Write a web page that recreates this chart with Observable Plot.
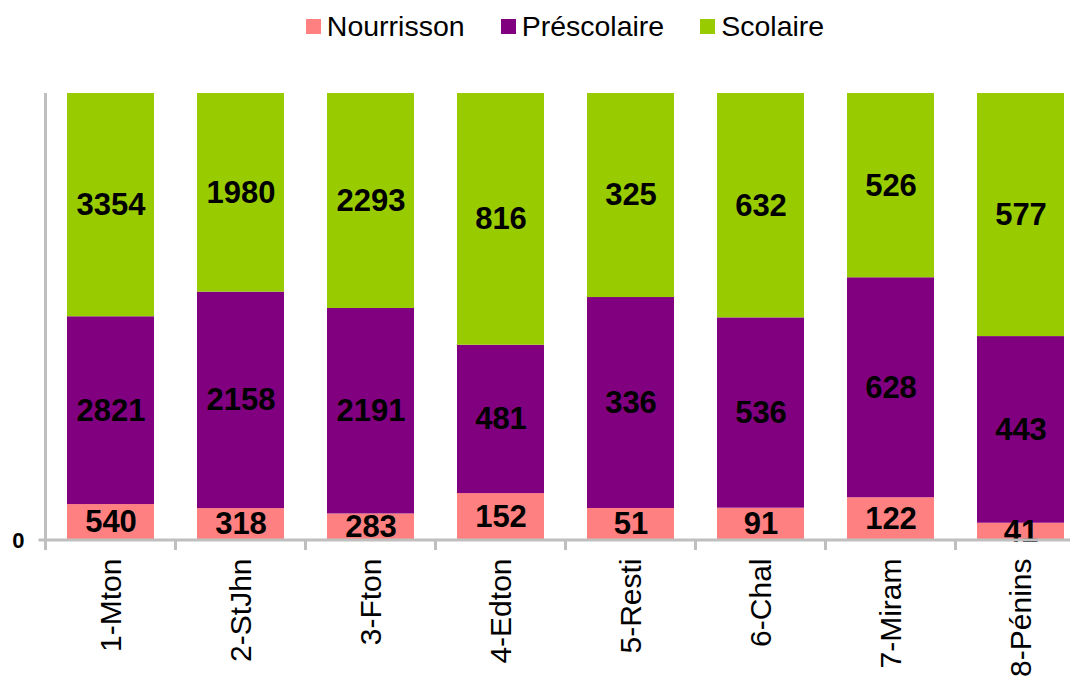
<!DOCTYPE html>
<html>
<head>
<meta charset="utf-8">
<script src="https://cdn.jsdelivr.net/npm/d3@7"></script>
<script src="https://cdn.jsdelivr.net/npm/@observablehq/plot@0.6"></script>
<style>
  html, body { margin: 0; padding: 0; background: white; overflow: hidden; }
  body { width: 1070px; height: 685px; font-family: "Liberation Sans", Arial, sans-serif; }
  #legend { position: relative; width: 1070px; height: 52px; }
  #legend .inner { position: absolute; left: 45px; width: 1040px; top: 0; height: 52px;
    display: flex; justify-content: center; align-items: center; gap: 36px; }
  #legend .item { display: flex; align-items: center; font-size: 28.5px; color: black; line-height: 1; }
  #legend .sw { width: 15px; height: 15px; margin-right: 6px; }
</style>
</head>
<body>
<div id="legend"><div class="inner"></div></div>
<div id="chart"></div>
<script>
const sites = ["1-Mton", "2-StJhn", "3-Fton", "4-Edton", "5-Resti", "6-Chal", "7-Miram", "8-Pénins"];
const groups = ["Nourrisson", "Préscolaire", "Scolaire"];
const nourrisson = [540, 318, 283, 152, 51, 91, 122, 41];
const prescolaire = [2821, 2158, 2191, 481, 336, 536, 628, 443];
const scolaire = [3354, 1980, 2293, 816, 325, 632, 526, 577];
const colors = ["#FF8080", "#800080", "#99CC00"];
const yTicks = [0];
const yTickLabels = ["0"];

const seriesValues = [nourrisson, prescolaire, scolaire];
const data = [];
sites.forEach((s, i) => {
  groups.forEach((g, j) => data.push({site: s, group: g, value: seriesValues[j][i]}));
});

// Legend
const inner = d3.select("#legend .inner");
groups.forEach((g, j) => {
  const it = inner.append("div").attr("class", "item");
  it.append("div").attr("class", "sw").style("background", colors[j]);
  it.append("span").text(g);
});

const grey = "#BFBFBF";
function axisLines(index, scales, values, dims) {
  const x = scales.x, y = scales.y;
  const g = d3.create("svg:g");
  const yb = y(0), yt = y(1);
  const step = x.step(), bw = x.bandwidth();
  const left = x(sites[0]) - (step - bw) / 2;
  // y axis line
  g.append("line").attr("x1", left).attr("x2", left).attr("y1", yt).attr("y2", yb)
    .attr("stroke", grey).attr("stroke-width", 3);
  // x axis line (with tick at 0 extending left)
  g.append("line").attr("x1", left - 7).attr("x2", dims.width).attr("y1", yb).attr("y2", yb)
    .attr("stroke", grey).attr("stroke-width", 3);
  // category boundary ticks
  sites.forEach((s) => {
    const bx = x(s) - (step - bw) / 2;
    g.append("line").attr("x1", bx).attr("x2", bx).attr("y1", yb).attr("y2", yb + 10)
      .attr("stroke", grey).attr("stroke-width", 3);
  });
  return g.node();
}

const chart = Plot.plot({
  width: 1070,
  height: 633,
  marginTop: 41,
  marginBottom: 145,
  marginLeft: 45,
  marginRight: 0,
  style: {fontFamily: "'Liberation Sans', Arial, sans-serif", background: "white", color: "black", overflow: "visible"},
  x: {domain: sites, range: [45, 1085], paddingInner: 0.334, paddingOuter: 0.167, align: 0.5, label: null, axis: null},
  y: {axis: null, domain: [0, 1]},
  color: {domain: groups, range: colors},
  marks: [
    Plot.barY(data, Plot.stackY({offset: "normalize"}, {x: "site", y: "value", fill: "group"})),
    Plot.text(data, Plot.stackY({offset: "normalize"}, {
      x: "site", y: "value", z: "group",
      text: d => String(d.value),
      fontSize: 31, fontWeight: "bold", fill: "black"
    })),
    axisLines,
    Plot.text(yTicks, {
      y: d => d, frameAnchor: "left", dx: -21, textAnchor: "end",
      text: (d, i) => yTickLabels[i], fontSize: 22, fontWeight: "bold", fill: "black"
    }),
    Plot.axisX({tickSize: 0, tickRotate: -90, fontSize: 30, tickPadding: 18, label: null, fill: "black"})
  ]
});
document.getElementById("chart").appendChild(chart);
</script>
</body>
</html>
